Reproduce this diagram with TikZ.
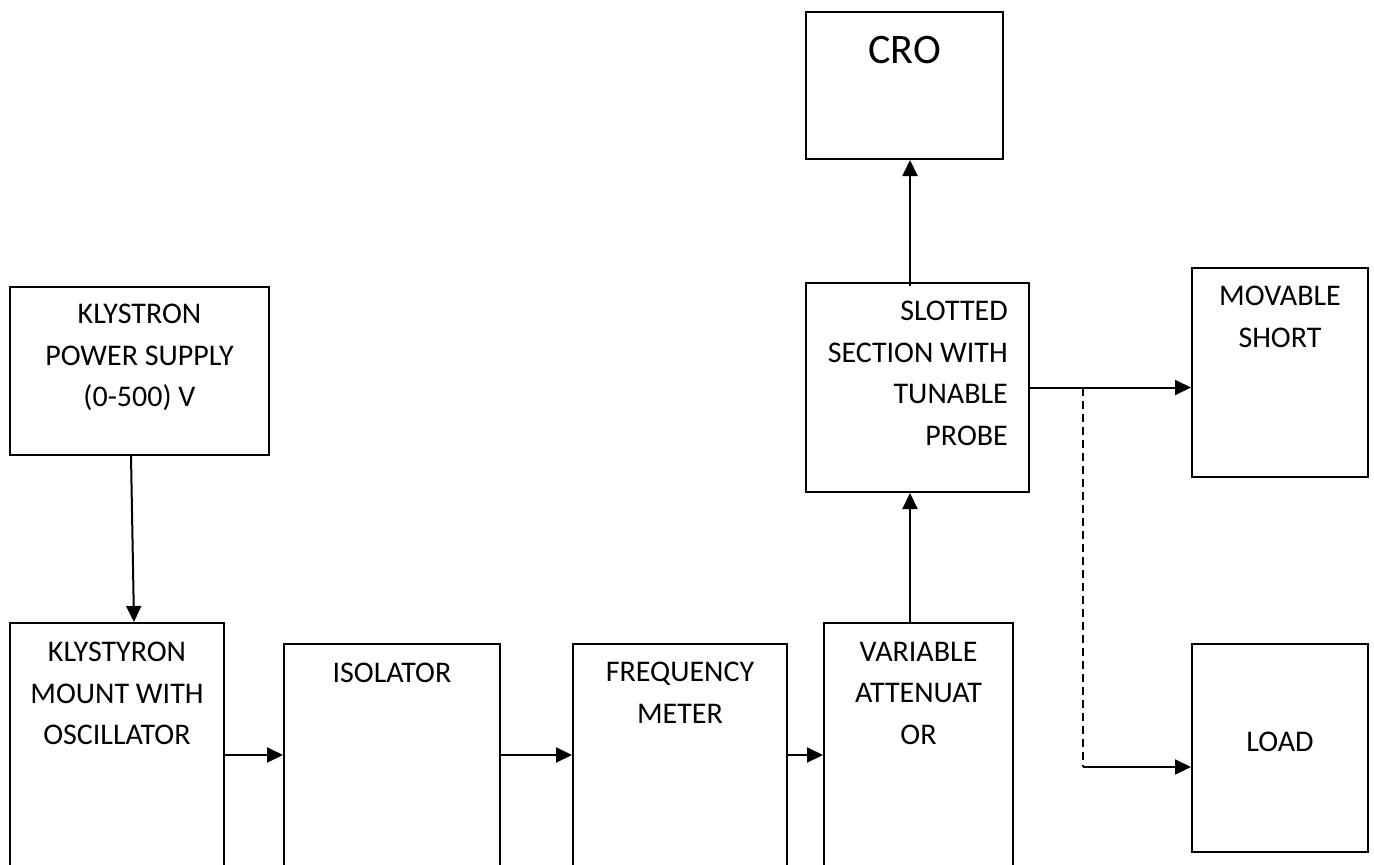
\documentclass[tikz,border=0pt]{standalone}
\usepackage{fontspec}
\setmainfont{Carlito}
\usetikzlibrary{arrows.meta,positioning}

\begin{document}
\begin{tikzpicture}[x=1pt,y=-1pt,>={Triangle[length=16pt,width=15pt]},
    box/.style={draw,line width=2pt,inner sep=0pt},
    txt/.style={align=center,inner sep=0pt,font=\fontsize{30}{41.5}\selectfont},
    arr/.style={->,line width=2pt}]
    \useasboundingbox (0,0) rectangle (1374,865);
    \clip (0,0) rectangle (1374,865);
    % blocks (the bottom row runs off the page)
    \node[box,minimum width=259pt,minimum height=168pt] (ps)   at (139.5,371)  {};
    \node[box,minimum width=214pt,minimum height=282pt] (km)   at (117,764)    {};
    \node[box,minimum width=216pt,minimum height=261pt] (iso)  at (392,774.5)  {};
    \node[box,minimum width=214pt,minimum height=261pt] (fm)   at (680,774.5)  {};
    \node[box,minimum width=189pt,minimum height=282pt] (va)   at (918.5,764)  {};
    \node[box,minimum width=223pt,minimum height=209pt] (sl)   at (917.5,387.5){};
    \node[box,minimum width=197pt,minimum height=147pt] (cro)  at (904.5,85.5) {};
    \node[box,minimum width=176pt,minimum height=209pt] (ms)   at (1280,372.5) {};
    \node[box,minimum width=176pt,minimum height=208pt] (load) at (1280,748)   {};
    % labels
    \node[txt,below=18pt of ps.north]  (pslab)  {KLYSTRON\\POWER SUPPLY\\(0-500) V};
    \node[txt,below=20pt of km.north]  (kmlab)  {KLYSTYRON\\MOUNT WITH\\OSCILLATOR};
    \node[txt,below=20pt of iso.north] (isolab) {ISOLATOR};
    \node[txt,below=19pt of fm.north]  (fmlab)  {FREQUENCY\\METER};
    \node[txt,below=20pt of va.north]  (valab)  {VARIABLE\\ATTENUAT\\OR};
    \node[txt,align=right,below left=19pt and 22pt of sl.north east] (sllab)
        {SLOTTED\\SECTION WITH\\TUNABLE\\PROBE};
    \node[txt,font=\fontsize{42}{50}\selectfont,below=25pt of cro.north] (crolab) {CRO};
    \node[txt,below=19pt of ms.north]  (mslab)  {MOVABLE\\SHORT};
    \node[txt] (loadlab) at ([yshift=6pt]load.center) {LOAD};
    % signal path
    \coordinate (row) at (0,755);
    \coordinate (col) at (910,0);
    \draw[arr] ([xshift=-8.5pt]ps.south) -- ([xshift=17pt]km.north);
    \draw[arr] (km.east |- row) -- (iso.west |- row);
    \draw[arr] (iso.east |- row) -- (fm.west |- row);
    \draw[arr] (fm.east |- row) -- (va.west |- row);
    \draw[arr] (va.north -| col) -- (sl.south -| col);
    \draw[arr] ([yshift=-4pt]sl.north -| col) -- (cro.south -| col);
    \draw[arr] (sl.east) -- (ms.west |- sl.east);
    % alternative termination
    \coordinate (tap) at (1083,388);
    \coordinate (turn) at (1083,767);
    \draw[line width=2pt,dash pattern=on 8pt off 5pt] (tap) -- (turn);
    \draw[arr] (turn) -- (load.west |- turn);
\end{tikzpicture}
\end{document}
